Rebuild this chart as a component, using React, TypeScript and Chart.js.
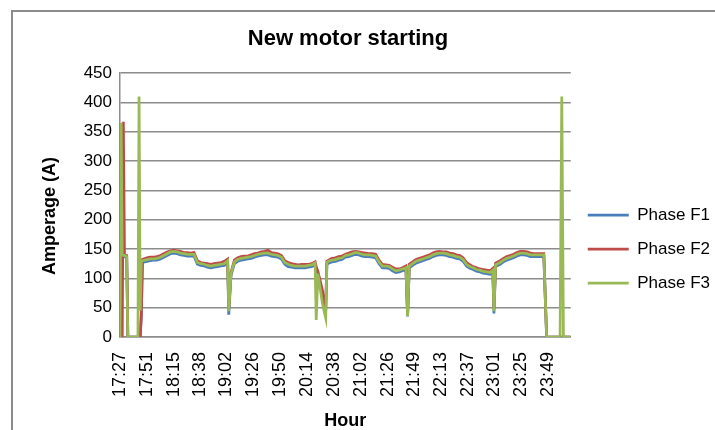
import React, { useEffect, useRef } from 'react';
import { Chart, registerables } from 'chart.js';

Chart.register(...registerables);

const tickLabels = ['17:27', '17:51', '18:15', '18:38', '19:02', '19:26', '19:50', '20:14', '20:38', '21:02', '21:26', '21:49', '22:13', '22:37', '23:01', '23:25', '23:49'];

// minutes elapsed since 17:27 for every sample
const minutes = [
  0, 1, 2, 3, 4, 6, 7, 16, 17, 18, 19, 20,
  24, 27, 30, 33, 36, 39, 42, 45, 48, 51, 54, 57, 60, 63, 66, 69, 72, 75, 78, 81, 84, 87, 90, 93, 96,
  97, 99,
  102, 105, 108, 111, 114, 117, 120, 123, 126, 129, 132, 135, 138, 141, 144, 147, 150, 153, 156, 159, 162, 165, 168, 171, 174,
  175, 176.5, 180.5, 182.5, 183.5, 184.5,
  186, 189, 192, 195, 198, 201, 204, 207, 210, 213, 216, 219, 222, 225, 228, 231, 234, 237, 240, 243, 246, 249, 252, 255,
  256.5, 258,
  261, 264, 267, 270, 273, 276, 279, 282, 285, 288, 291, 294, 297, 300, 303, 306, 309, 312, 315, 318, 321, 324, 327, 330,
  332.5, 333.5, 335,
  339, 342, 345, 348, 351, 354, 357, 360, 363, 366, 369, 372, 375, 378,
  380.5, 392.5, 394, 395.5, 402,
];

const phaseF1 = [
  0, 360, 138, 137, 137, 135, 0, 0, 0, 0, 38, 127,
  129, 130, 131, 131, 133, 136, 139, 142, 143, 142, 140, 139, 138, 138, 138, 124, 122, 121, 119, 118, 119, 120, 121, 122, 127,
  38, 105,
  125, 129, 131, 132, 133, 134, 136, 138, 139, 140, 140, 138, 137, 136, 133, 124, 120, 119, 118, 118, 118, 118, 119, 120, 123,
  118, 108, 75, 52, 48, 124,
  126, 128, 129, 131, 132, 136, 137, 139, 141, 140, 138, 137, 137, 136, 135, 125, 118, 118, 117, 113, 110, 111, 113, 115,
  35, 118,
  122, 126, 128, 130, 132, 134, 137, 139, 140, 140, 139, 137, 136, 134, 133, 129, 121, 117, 115, 112, 111, 109, 108, 107,
  111, 40, 120,
  124, 128, 131, 133, 135, 138, 140, 140, 139, 137, 137, 137, 137, 137,
  0, 0, 0, 0, 0,
];

const phaseF2 = [
  0, 0, 0, 367, 140, 139, 0, 0, 0, 0, 35, 132,
  135, 136, 136, 137, 139, 142, 145, 147, 148, 147, 146, 144, 144, 143, 144, 130, 127, 126, 125, 124, 125, 126, 127, 129, 133,
  48, 110,
  131, 135, 137, 138, 138, 140, 142, 143, 145, 146, 148, 144, 143, 142, 139, 130, 127, 125, 124, 123, 124, 124, 124, 125, 128,
  120, 112, 80, 55, 52, 129,
  131, 134, 135, 137, 138, 141, 143, 145, 146, 145, 144, 143, 142, 142, 141, 131, 124, 123, 122, 119, 116, 116, 118, 121,
  38, 124,
  128, 132, 134, 136, 138, 140, 143, 145, 146, 145, 145, 143, 142, 140, 139, 135, 127, 123, 120, 118, 116, 115, 114, 113,
  117, 48, 126,
  130, 134, 137, 139, 141, 144, 146, 146, 145, 143, 142, 142, 142, 142,
  0, 0, 0, 0, 0,
];

const phaseF3 = [
  0, 365, 140, 139, 139, 137, 0, 0, 410, 45, 128, 130,
  132, 133, 133, 134, 136, 139, 142, 145, 146, 145, 143, 142, 141, 141, 141, 127, 125, 124, 122, 121, 122, 123, 124, 125, 130,
  44, 108,
  128, 132, 134, 135, 136, 137, 139, 141, 142, 143, 143, 141, 140, 139, 136, 127, 124, 122, 121, 121, 121, 121, 122, 123, 126,
  29, 108, 58, 40, 32, 127,
  129, 131, 132, 134, 135, 139, 140, 142, 144, 143, 141, 140, 140, 139, 138, 128, 121, 121, 120, 116, 113, 114, 116, 118,
  36, 121,
  125, 129, 131, 133, 135, 137, 140, 142, 143, 143, 142, 140, 139, 137, 136, 132, 124, 120, 118, 115, 114, 112, 111, 110,
  114, 44, 123,
  127, 131, 134, 136, 138, 141, 143, 143, 142, 140, 140, 140, 140, 140,
  0, 0, 410, 0, 0,
];

const seriesNames = ['Phase F1', 'Phase F2', 'Phase F3'];
const seriesColors = ['#4a7ebb', '#be4b48', '#98b954'];

const FONT = "'Liberation Sans', Arial, sans-serif";
const GRID = '#8c8c8c';

const toMinutes = (t: string) => {
  const [h, m] = t.split(':').map(Number);
  return h * 60 + m;
};

export default function App() {
  const canvasRef = useRef<HTMLCanvasElement | null>(null);

  useEffect(() => {
    const canvas = canvasRef.current;
    if (!canvas) return;
    const start = toMinutes(tickLabels[0]);
    const tickMinutes = tickLabels.map((t) => toMinutes(t) - start);
    const seriesData = [phaseF1, phaseF2, phaseF3];

    const yTitlePlugin = {
      id: 'yTitle',
      afterDraw(chart: any) {
        const { ctx, chartArea } = chart;
        ctx.save();
        ctx.translate(50, (chartArea.top + chartArea.bottom) / 2 + 11);
        ctx.rotate(-Math.PI / 2);
        ctx.font = `bold 18px ${FONT}`;
        ctx.fillStyle = '#000';
        ctx.textAlign = 'center';
        ctx.textBaseline = 'middle';
        ctx.fillText('Amperage (A)', 0, 0);
        ctx.restore();
      },
    };

    const chart = new Chart(canvas, {
      type: 'line',
      data: {
        datasets: seriesData.map((d, k) => ({
          label: seriesNames[k],
          data: minutes.map((x, j) => ({ x, y: d[j] })),
          borderColor: seriesColors[k],
          backgroundColor: seriesColors[k],
          borderWidth: 2.75,
          pointRadius: 0,
          tension: 0,
          fill: false,
          order: 2 - k,
        })),
      },
      plugins: [yTitlePlugin],
      options: {
        responsive: false,
        animation: false,
        devicePixelRatio: 1,
        layout: { padding: { top: 20, left: -24, right: -5, bottom: 0 } },
        plugins: {
          title: {
            display: true,
            text: 'New motor starting',
            color: '#000',
            font: { family: FONT, size: 22, weight: 'bold' },
            padding: { top: 5.8, bottom: 20.8 },
          },
          legend: {
            position: 'right',
            align: 'center',
            title: { display: true, text: '', padding: { top: 38, bottom: 0 }, font: { size: 10, lineHeight: 1 } },
            labels: {
              boxWidth: 41,
              boxHeight: 0,
              padding: 17,
              color: '#000',
              font: { family: FONT, size: 17 },
              sort: (a: any, b: any) => a.datasetIndex - b.datasetIndex,
            },
          },
          tooltip: { enabled: false },
        },
        scales: {
          x: {
            type: 'linear',
            min: 0,
            max: 402,
            grid: { display: false, drawTicks: false },
            border: { display: true, color: GRID, width: 1.5 },
            afterBuildTicks: (s: any) => {
              s.ticks = tickMinutes.map((value) => ({ value }));
            },
            ticks: {
              autoSkip: false,
              maxRotation: 90,
              minRotation: 90,
              padding: 15,
              color: '#000',
              font: { family: FONT, size: 18 },
              callback: (_v: any, i: number) => tickLabels[i],
            },
            title: {
              display: true,
              text: 'Hour',
              color: '#000',
              font: { family: FONT, size: 18, weight: 'bold', lineHeight: 1 },
              padding: 0,
            },
            afterFit: (s: any) => { s.height = 93; },
          },
          y: {
            min: 0,
            max: 450,
            ticks: { stepSize: 50, padding: 8, color: '#000', font: { family: FONT, size: 17 } },
            grid: { color: GRID, lineWidth: 1.5, drawTicks: false },
            border: { display: true, color: GRID, width: 1.5 },
            title: { display: false },
            afterFit: (s: any) => { s.width = 144; },
          },
        },
      },
    } as any);
    return () => chart.destroy();
  }, []);

  return (
    <div style={{ position: 'fixed', left: 0, top: 0, width: 715, height: 430, overflow: 'hidden', background: '#fff' }}>
      <canvas ref={canvasRef} width={715} height={430} style={{ position: 'absolute', left: 0, top: 0 }} />
      <div
        style={{
          position: 'absolute',
          left: 11,
          top: 10,
          width: 720,
          height: 440,
          border: '2px solid #8c8c8c',
          pointerEvents: 'none',
        }}
      />
    </div>
  );
}
